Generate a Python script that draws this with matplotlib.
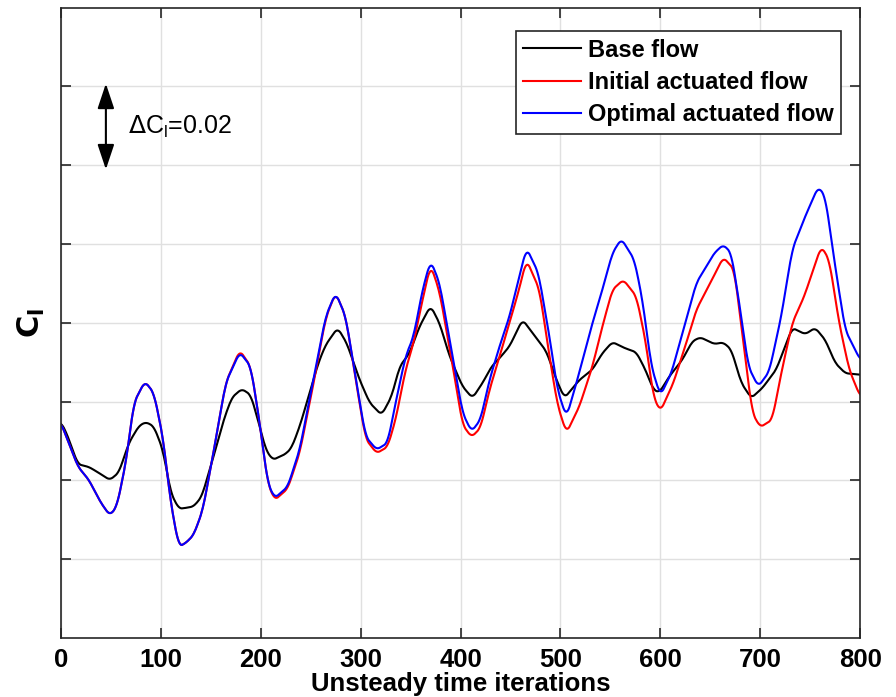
import numpy as np
import matplotlib
matplotlib.use('Agg')
import matplotlib.pyplot as plt
from matplotlib.patches import FancyArrowPatch

# Base flow
base_it = [0, 5, 17, 28, 36, 49, 58, 68, 78, 85, 93, 102, 110, 118, 125, 133, 141, 151,
           163, 171, 181, 190, 198, 205, 212, 225, 231, 239, 245, 252, 258, 265, 277, 286,
           299, 309, 321, 331, 339, 349, 359, 370, 379, 389, 402, 412, 422, 431, 439, 449,
           462, 476, 486, 496, 504, 519, 532, 542, 552, 564, 576, 585, 593, 599, 609, 622,
           632, 640, 654, 663, 671, 681, 691, 702, 716, 732, 745, 755, 765, 775, 785, 800]
base_cl = [0.7547, 0.7524, 0.7441, 0.7434, 0.7422, 0.7401, 0.7420, 0.7495, 0.7538, 0.7548,
           0.7537, 0.7478, 0.7368, 0.7328, 0.7330, 0.7334, 0.7359, 0.7445, 0.7554, 0.7610,
           0.7632, 0.7617, 0.7546, 0.7478, 0.7452, 0.7467, 0.7483, 0.7537, 0.7588, 0.7650,
           0.7700, 0.7744, 0.7787, 0.7749, 0.7655, 0.7597, 0.7566, 0.7613, 0.7689, 0.7723,
           0.7791, 0.7843, 0.7799, 0.7715, 0.7638, 0.7609, 0.7647, 0.7689, 0.7710, 0.7740,
           0.7808, 0.7761, 0.7727, 0.7655, 0.7609, 0.7655, 0.7681, 0.7723, 0.7751, 0.7736,
           0.7725, 0.7681, 0.7630, 0.7623, 0.7664, 0.7706, 0.7753, 0.7763, 0.7746, 0.7750,
           0.7732, 0.7647, 0.7609, 0.7634, 0.7681, 0.7787, 0.7771, 0.7787, 0.7757, 0.7698,
           0.7672, 0.7668]

# Initial actuated flow
init_it = [0, 17, 28, 40, 49, 56, 65, 73, 84, 93, 102, 110, 118, 125, 133, 142, 152, 165,
           179, 190, 198, 207, 214, 227, 239, 252, 265, 275, 285, 297, 305, 316, 327, 335,
           345, 353, 362, 370, 379, 392, 402, 411, 420, 429, 439, 449, 458, 466, 479, 489,
           497, 506, 519, 532, 542, 552, 563, 576, 585, 593, 600, 613, 626, 636, 650, 663,
           674, 684, 692, 700, 712, 721, 732, 744, 761, 769, 779, 789, 800]
init_cl = [0.7546, 0.7435, 0.7401, 0.7343, 0.7311, 0.7334, 0.7445, 0.7597, 0.7651, 0.7622,
           0.7511, 0.7342, 0.7232, 0.7241, 0.7262, 0.7325, 0.7461, 0.7648, 0.7730, 0.7689,
           0.7562, 0.7393, 0.7350, 0.7379, 0.7470, 0.7635, 0.7812, 0.7876, 0.7816, 0.7625,
           0.7505, 0.7469, 0.7485, 0.7554, 0.7681, 0.7749, 0.7859, 0.7947, 0.7879, 0.7693,
           0.7541, 0.7510, 0.7533, 0.7630, 0.7714, 0.7800, 0.7879, 0.7960, 0.7884, 0.7715,
           0.7592, 0.7520, 0.7588, 0.7689, 0.7791, 0.7884, 0.7909, 0.7867, 0.7757, 0.7613,
           0.7575, 0.7647, 0.7749, 0.7833, 0.7901, 0.7966, 0.7935, 0.7732, 0.7571, 0.7535,
           0.7554, 0.7672, 0.7799, 0.7867, 0.7994, 0.7960, 0.7799, 0.7681, 0.7613]

# Optimal actuated flow
opt_it = [0, 17, 28, 40, 49, 56, 65, 73, 84, 93, 102, 110, 118, 125, 133, 142, 152, 165,
          179, 190, 198, 207, 214, 227, 239, 252, 265, 275, 285, 297, 305, 316, 327, 335,
          345, 353, 362, 370, 379, 392, 402, 411, 420, 429, 439, 449, 458, 466, 478, 489,
          497, 506, 516, 532, 542, 552, 561, 574, 582, 591, 600, 611, 624, 636, 646, 654,
          663, 671, 679, 688, 698, 709, 721, 732, 745, 758, 765, 775, 785, 800]
opt_cl = [0.7546, 0.7435, 0.7401, 0.7343, 0.7311, 0.7334, 0.7445, 0.7597, 0.7651, 0.7622,
          0.7511, 0.7342, 0.7232, 0.7241, 0.7262, 0.7325, 0.7461, 0.7648, 0.7725, 0.7689,
          0.7562, 0.7393, 0.7355, 0.7384, 0.7478, 0.7647, 0.7816, 0.7876, 0.7816, 0.7630,
          0.7511, 0.7478, 0.7495, 0.7597, 0.7715, 0.7765, 0.7884, 0.7958, 0.7901, 0.7715,
          0.7571, 0.7524, 0.7554, 0.7655, 0.7740, 0.7816, 0.7909, 0.7990, 0.7926, 0.7765,
          0.7630, 0.7560, 0.7647, 0.7799, 0.7884, 0.7977, 0.8013, 0.7960, 0.7859, 0.7689,
          0.7615, 0.7672, 0.7791, 0.7901, 0.7943, 0.7977, 0.7998, 0.7977, 0.7850, 0.7689,
          0.7638, 0.7676, 0.7816, 0.7986, 0.8070, 0.8145, 0.8121, 0.7943, 0.7782, 0.7706]


def smooth(it, cl):
    # linear through the read-off points on a fine grid, then a short running mean
    x = np.arange(0, 801)
    y = np.interp(x, it, cl)
    k = np.ones(7) / 7.0
    yp = np.pad(y, 3, mode='edge')
    return x, np.convolve(yp, k, mode='valid')


plt.rcParams['font.family'] = ['Liberation Sans', 'DejaVu Sans']

fig = plt.figure(figsize=(8.96, 6.97), dpi=100)
ax = fig.add_axes([0.068, 0.0847, 0.892, 0.9045])

x, y = smooth(base_it, base_cl)
ax.plot(x, y, color='black', lw=1.5, label='Base flow')
x, y = smooth(init_it, init_cl)
ax.plot(x, y, color='red', lw=1.5, label='Initial actuated flow')
x, y = smooth(opt_it, opt_cl)
ax.plot(x, y, color='blue', lw=1.5, label='Optimal actuated flow')

ax.set_xlim(0, 800)
ax.set_ylim(0.70, 0.86)
ax.set_xticks(np.arange(0, 801, 100))
ax.set_yticks(np.arange(0.72, 0.85, 0.02))
ax.set_yticklabels([])
ax.grid(True, color='#e0e0e0', lw=1.0)
ax.set_axisbelow(True)
ax.tick_params(direction='in', length=7, width=1.2, color='#262626',
               top=True, right=True, pad=7)
for lab in ax.get_xticklabels():
    lab.set_fontweight('bold')
    lab.set_fontsize(18.5)
for s in ax.spines.values():
    s.set_color('#262626')
    s.set_linewidth(1.2)

ax.set_xlabel('Unsteady time iterations', fontsize=18.5, fontweight='bold', labelpad=0)
ax.set_ylabel(r'$\mathbf{C_l}$', fontsize=22, labelpad=3)

# Delta Cl indicator
arr = FancyArrowPatch((45, 0.8182), (45, 0.8414),
                      arrowstyle='<|-|>,head_length=9,head_width=3',
                      color='black', lw=1.5, mutation_scale=1.7)
ax.add_patch(arr)
ax.text(67, 0.8296, r'$\Delta$C$_\mathregular{l}$=0.02', fontsize=18, va='center', ha='left')

leg = ax.legend(loc='upper right', bbox_to_anchor=(0.9755, 0.962),
                prop={'weight': 'bold', 'size': 17}, frameon=True, fancybox=False,
                handlelength=2.45, handletextpad=0.3, borderpad=0.3, labelspacing=0.4,
                borderaxespad=0)
leg.get_frame().set_edgecolor('#262626')
leg.get_frame().set_linewidth(1.2)
leg.get_frame().set_alpha(1)

fig.savefig('out.png', dpi=100)
